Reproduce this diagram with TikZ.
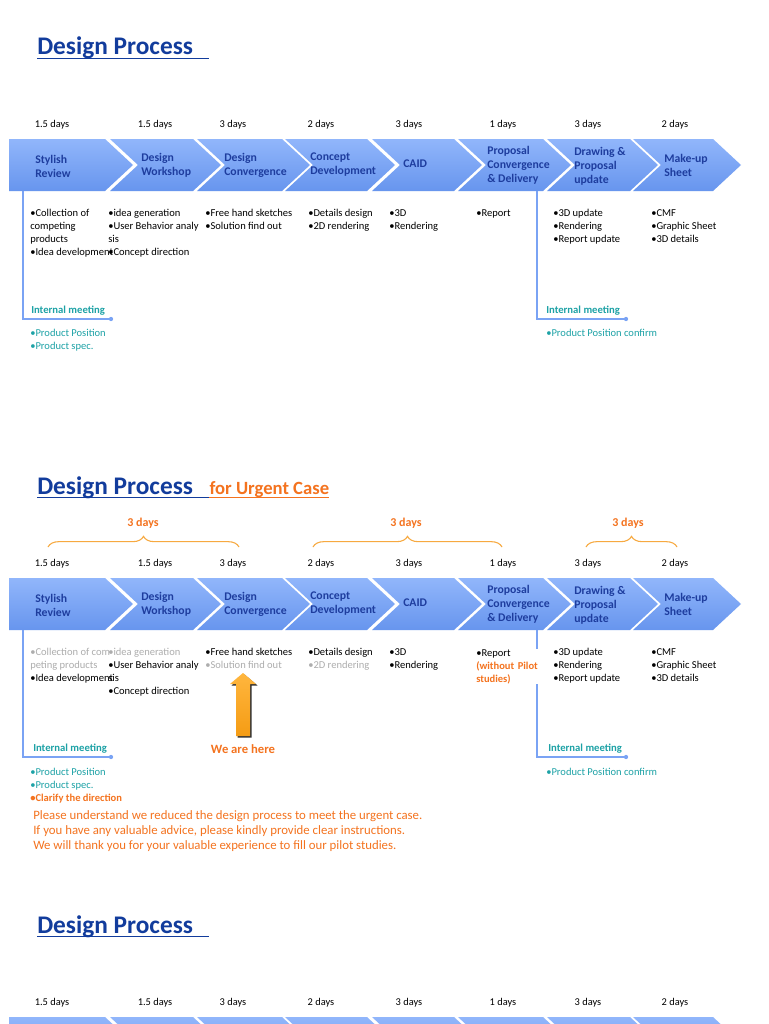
\documentclass[tikz,border=0pt]{standalone}
\usepackage{fontspec}
\setmainfont{Carlito}
\usetikzlibrary{decorations.pathreplacing}
\definecolor{titleblue}{HTML}{123C9C}
\definecolor{chevblue}{HTML}{1E3D9E}
\definecolor{chevtop}{HTML}{91B6FB}
\definecolor{chevbot}{HTML}{6795EE}
\definecolor{meetblue}{HTML}{7AA3F4}
\definecolor{meetteal}{HTML}{1DA2A6}
\definecolor{urgent}{HTML}{F4731F}
\definecolor{bracecol}{HTML}{F7A940}
\definecolor{greytxt}{HTML}{ADADAD}
\definecolor{arrowtop}{HTML}{FFB63E}
\definecolor{arrowbot}{HTML}{F59C14}
\tikzset{
  chev/.style={top color=chevtop,bottom color=chevbot},
  chevlbl/.style={anchor=west,inner sep=0pt,align=left,text=chevblue,font=\fontsize{8.8}{10.5}\selectfont\bfseries},
  daylbl/.style={inner sep=0pt,font=\fontsize{7.8}{9}\selectfont},
  items/.style={anchor=north west,inner sep=0pt,align=left,font=\fontsize{7.9}{9.75}\selectfont},
  meetlbl/.style={anchor=west,inner sep=0pt,text=meetteal,font=\fontsize{8}{9.75}\selectfont\bfseries},
  meetline/.style={draw=meetblue,line width=0.8pt},
  meetdot/.style={circle,fill=meetblue,inner sep=0pt,minimum size=3.2pt},
  headline/.style={anchor=base west,inner sep=0pt,text=titleblue,font=\fontsize{19}{22}\selectfont\bfseries},
  urgentlbl/.style={inner sep=0pt,text=urgent,font=\fontsize{9}{11}\selectfont\bfseries},
  bracket/.style={draw=bracecol,line width=0.8pt,decorate,decoration={brace,amplitude=8pt}},
}
\begin{document}
\begin{tikzpicture}[x=0.75pt,y=-0.75pt]
\clip (0,0) rectangle (768,1024);
\fill[white] (0,0) rectangle (768,1024);

% chevrons and durations, all three rows
\foreach \oy in {0,439,878}{
  \shade[chev] (9,\oy+139) -- (105,\oy+139) -- (133,\oy+165) -- (105,\oy+191) -- (9,\oy+191) -- cycle;
  \foreach \l/\r in {110/193,197/282,285/367,372/454,458/543,547/630,633/713}
    \shade[chev] (\l,\oy+139) -- (\r,\oy+139) -- (\r+28,\oy+165) -- (\r,\oy+191) -- (\l,\oy+191) -- (\l+28,\oy+165) -- cycle;
  \foreach \x/\t [count=\i] in {52/1.5 days,155/1.5 days,233/3 days,321/2 days,409/3 days,503/1 days,588/3 days,675/2 days}
    \node[daylbl] (day\oy-\i) at (\x,\oy+125) {\t};
}
\foreach \oy in {0,439}{
  \node[chevlbl] (st\oy) at (35,\oy+166) {Stylish\\Review};
  \node[chevlbl] (ws\oy) at (141,\oy+165) {Design\\Workshop};
  \node[chevlbl] (dc\oy) at (224,\oy+165) {Design\\Convergence};
  \node[chevlbl] (cd\oy) at (310,\oy+165) {Concept\\Development};
  \node[chevlbl] (ca\oy) at (403,\oy+164) {CAID};
  \node[chevlbl] (pc\oy) at (487,\oy+165) {Proposal\\Convergence\\\& Delivery};
  \node[chevlbl] (dp\oy) at (574,\oy+166) {Drawing \&\\Proposal\\update};
  \node[chevlbl] (mu\oy) at (664,\oy+165.5) {Make-up\\Sheet};
}

% first row
\node[headline] (title1) at (37,55) {Design Process\kern12pt};
\draw[titleblue,line width=1pt] ([yshift=-2.5pt]title1.base west) -- ([yshift=-2.5pt]title1.base east);
\node[items] (i1a) at (30,209) {•Collection of\\competing\\products\\•Idea development};
\node[items] (i1b) at (108,209) {•idea generation\\•User Behavior analy\\sis\\•Concept direction};
\node[items] (i1c) at (205,209) {•Free hand sketches\\•Solution find out};
\node[items] (i1d) at (308,209) {•Details design\\•2D rendering};
\node[items] (i1e) at (389,209) {•3D\\•Rendering};
\node[items] (i1f) at (476,209) {•Report};
\node[items] (i1g) at (553,209) {•3D update\\•Rendering\\•Report update};
\node[items] (i1h) at (651,209) {•CMF\\•Graphic Sheet\\•3D details};
\coordinate (mt1) at (23,191);
\node[meetdot] (md1) at (111,319) {};
\draw[meetline] (mt1) |- (md1);
\node[meetlbl] (ml1) at (31,311) {Internal meeting};
\node[items,text=meetteal] (mi1) at (30,329) {•Product Position\\•Product spec.};
\coordinate (mt2) at (537,191);
\node[meetdot] (md2) at (626,319) {};
\draw[meetline] (mt2) |- (md2);
\node[meetlbl] (ml2) at (546,311) {Internal meeting};
\node[items,text=meetteal] (mi2) at (546,329) {•Product Position confirm};

% second row, urgent case
\node[headline] (title2) at (37,494) {Design Process\kern12pt};
\draw[titleblue,line width=1pt] ([yshift=-2.5pt]title2.base west) -- ([yshift=-2.5pt]title2.base east);
\node[headline,text=urgent,font=\fontsize{14}{16}\selectfont\bfseries] (urg) at (title2.base east) {for Urgent Case};
\draw[urgent,line width=1pt] ([yshift=-2.5pt]urg.base west) -- ([yshift=-2.5pt]urg.base east);
\node[urgentlbl] (br1) at (143,523) {3 days};
\coordinate (br1l) at (48,547);
\coordinate (br1r) at (239,547);
\draw[bracket] (br1l) -- (br1r);
\node[urgentlbl] (br2) at (406,523) {3 days};
\coordinate (br2l) at (313,547);
\coordinate (br2r) at (502,547);
\draw[bracket] (br2l) -- (br2r);
\node[urgentlbl] (br3) at (628,523) {3 days};
\coordinate (br3l) at (586,547);
\coordinate (br3r) at (677,547);
\draw[bracket] (br3l) -- (br3r);
\coordinate (mt3) at (23,630);
\node[meetdot] (md3) at (111,757) {};
\draw[meetline] (mt3) |- (md3);
\coordinate (mt4) at (537,630);
\node[meetdot] (md4) at (626,757) {};
\draw[meetline] (mt4) |- (md4);
\node[items] (i2a) at (30,648) {\textcolor{greytxt}{•Collection of com}\\\textcolor{greytxt}{peting products}\\•Idea development};
\node[items] (i2b) at (108,648) {\textcolor{greytxt}{•idea generation}\\•User Behavior analy\\sis\\•Concept direction};
\node[items] (i2c) at (205,648) {•Free hand sketches\\\textcolor{greytxt}{•Solution find out}};
\node[items] (i2d) at (308,648) {•Details design\\\textcolor{greytxt}{•2D rendering}};
\node[items] (i2e) at (389,648) {•3D\\•Rendering};
\node[items,fill=white,text width=47pt] (i2f) at (476,649) {•Report\\\textcolor{urgent}{\bfseries(without Pilot}\\\textcolor{urgent}{\bfseries studies)}};
\node[items] (i2g) at (553,648) {•3D update\\•Rendering\\•Report update};
\node[items] (i2h) at (651,648) {•CMF\\•Graphic Sheet\\•3D details};
% we are here arrow
\fill[black!80] (244.5,674.5) -- (257.5,685.5) -- (251.5,685.5) -- (251.5,737.5) -- (237.5,737.5) -- (237.5,685.5) -- (231.5,685.5) -- cycle;
\shade[top color=arrowtop,bottom color=arrowbot] (243,673) -- (256,684) -- (250,684) -- (250,736) -- (236,736) -- (236,684) -- (230,684) -- cycle;
\node[urgentlbl,font=\fontsize{9.5}{11}\selectfont\bfseries] (here) at (243,749) {We are here};
\node[meetlbl] (ml3) at (33,749) {Internal meeting};
\node[items,text=meetteal] (mi3) at (30,768) {•Product Position\\•Product spec.\\\textcolor{urgent}{\bfseries •Clarify the direction}};
\node[meetlbl] (ml4) at (548,749) {Internal meeting};
\node[items,text=meetteal] (mi4) at (546,768) {•Product Position confirm};
\node[items,text=urgent,font=\fontsize{9.6}{11.25}\selectfont] (note) at (33,810) {Please understand we reduced the design process to meet the urgent case.\\If you have any valuable advice, please kindly provide clear instructions.\\We will thank you for your valuable experience to fill our pilot studies.};

% third row
\node[headline] (title3) at (37,933) {Design Process\kern12pt};
\draw[titleblue,line width=1pt] ([yshift=-2.5pt]title3.base west) -- ([yshift=-2.5pt]title3.base east);
\end{tikzpicture}
\end{document}
